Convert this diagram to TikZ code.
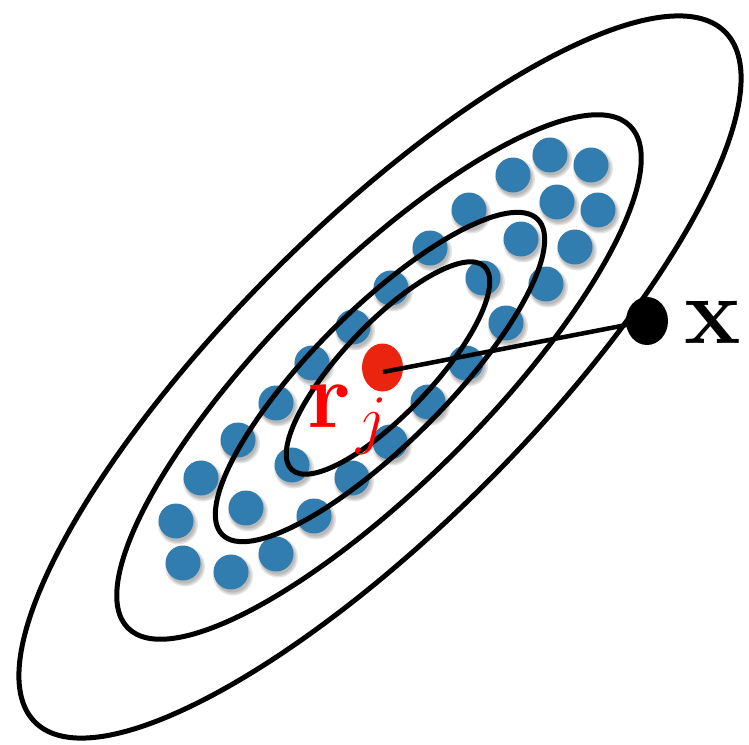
\RequirePackage{fix-cm}
\documentclass[tikz,border=0pt]{standalone}
\usetikzlibrary{shapes.geometric}
\definecolor{dotblue}{RGB}{50,125,176}
\definecolor{dotred}{RGB}{234,36,14}
\tikzset{
  bdot/.style={circle, fill=dotblue, minimum size=35pt, inner sep=0pt},
  bshadow/.style={circle, fill=black, opacity=0.10, minimum size=#1, inner sep=0pt},
  contour/.style={line width=5pt, draw=black},
  bigfont/.style={font=\fontsize{95}{95}\selectfont, inner sep=0pt, anchor=base west},
}
\begin{document}
\begin{tikzpicture}[x=1pt,y=-1pt]
\useasboundingbox (0,0) rectangle (749,744);
\def\dotlist{513/175, 550/155, 591/165, 469/210, 557/202, 598/210, 521/239, 575/247,
  430/248, 483/278, 546/284, 391/288, 506/323, 353/327, 466/363, 312/363, 276/403,
  428/402, 238/440, 390/442, 292/465, 201/478, 352/478, 246/508, 314/516, 176/521,
  183/563, 231/572, 276/554}
% shadows
\foreach \x/\y in \dotlist {
  \node[bshadow=40pt] at (\x+2,\y+3.5) {};
  \node[bshadow=37pt] at (\x+2,\y+3.5) {};
  \node[bshadow=35pt] at (\x+1.5,\y+3) {};
}
% dots
\foreach \x/\y [count=\i] in \dotlist {
  \node[bdot] (b\i) at (\x,\y) {};
}
% contours
\draw[contour, rotate around={46.5:(388,368)}] (388,368) ellipse [x radius=140pt, y radius=45pt];
\draw[contour, rotate around={45:(380,377)}] (380,377) ellipse [x radius=223pt, y radius=67pt];
\draw[contour, rotate around={45:(379,377)}] (379,377) ellipse [x radius=355pt, y radius=107pt];
\draw[contour, rotate around={45:(380,377)}] (380,377) ellipse [x radius=488pt, y radius=150pt];
% centre and point
\node[ellipse, fill=dotred, minimum width=41pt, minimum height=48pt, inner sep=0pt] (rdot) at (382.5,367.5) {};
\node[ellipse, fill=black, minimum width=42pt, minimum height=48pt, inner sep=0pt] (xdot) at (647,321) {};
\coordinate (rstart) at (383,372);
\draw[line width=4.5pt] (rstart) -- (xdot.center);
% labels
\node[bigfont, text=red] (rlab) at (307,427) {$\mathbf{r}_{\kern6pt j}$};
\node[bigfont] (xlab) at (684,343) {$\mathbf{x}$};
\end{tikzpicture}
\end{document}
